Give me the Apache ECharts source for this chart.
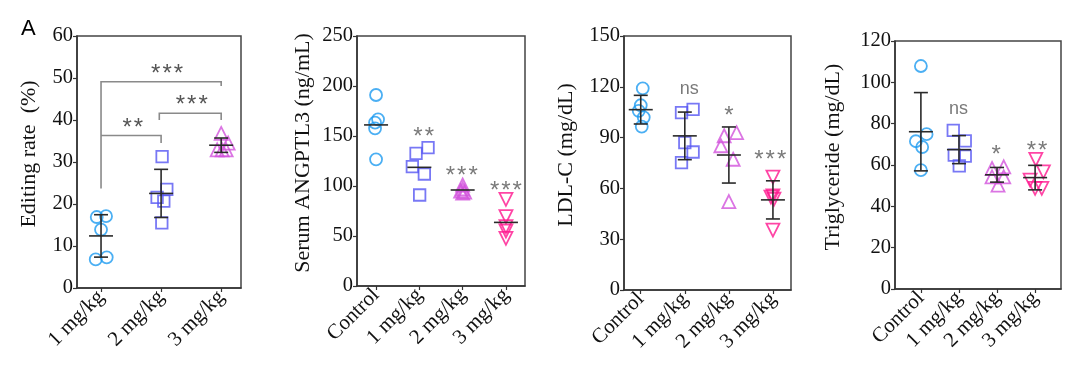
<!DOCTYPE html>
<html><head><meta charset="utf-8">
<script src="https://cdn.jsdelivr.net/npm/echarts@6/dist/echarts.min.js"></script>
<style>html,body{margin:0;padding:0;background:#fff}#c{width:1080px;height:382px}</style>
</head><body><div id="c"></div><script>
// ---- categories ----
const catsA = ['1 mg/kg', '2 mg/kg', '3 mg/kg'];
const catsB = ['Control', '1 mg/kg', '2 mg/kg', '3 mg/kg'];

// ---- Panel 1: Editing rate (%) ----
const edit1mg = [16.9, 17.1, 13.9, 6.8, 7.3];
const edit2mg = [31.3, 23.5, 21.6, 20.7, 15.5];
const edit3mg = [36.8, 34.5, 32.9, 32.9, 32.9];

// ---- Panel 2: Serum ANGPTL3 (ng/mL) ----
const angCtrl = [191, 166.7, 163.3, 157.7, 126.7];
const ang1mg = [132.7, 138.3, 119.3, 112, 91];
const ang2mg = [101, 97, 95, 94, 93];
const ang3mg = [86.7, 69.3, 59.3, 55, 47.7];

// ---- Panel 3: LDL-C (mg/dL) ----
const ldlCtrl = [119.1, 109.1, 105.8, 102, 96.5];
const ldl1mg = [104.7, 106.7, 87, 81.5, 75.2];
const ldl2mg = [91.1, 92.9, 85.2, 77.2, 52.2];
const ldl3mg = [66.7, 55.5, 53.6, 54.9, 35.4];

// ---- Panel 4: Triglyceride (mg/dL) ----
const tgCtrl = [107.9, 74.9, 71.5, 68.7, 57.5];
const tg1mg = [76.8, 71.7, 64.8, 64.3, 59.6];
const tg2mg = [59.1, 58.3, 54.3, 54.3, 50.3];
const tg3mg = [62.7, 56.7, 52.7, 48.7, 48.7];

// ---- y-axis ticks [min, max, interval] ----
const yTicks1 = [0, 60, 10];
const yTicks2 = [0, 250, 50];
const yTicks3 = [0, 150, 30];
const yTicks4 = [0, 120, 20];

// ---- significance annotations: [groupPos, y, text] ----
const sig1 = [[2.10, 52.4, '***'], [2.51, 45.0, '***'], [1.53, 39.4, '**']];
const sig2 = [[2.10, 154.3, '**'], [2.98, 115.3, '***'], [4.0, 101, '***']];
const sig3 = [[2.10, 118.5, 'ns'], [3.0, 106.3, '*'], [3.94, 80.1, '***']];
const sig4 = [[1.99, 87.3, 'ns'], [2.98, 67.7, '*'], [4.05, 69.3, '**']];
// brackets (panel 1): [from, to, height, leftLegEnd, rightLegEnd]
const brackets1 = [[1, 3, 49.1, 23.7, 48.1], [1, 2, 36.3, 36.3, 34.5], [1.97, 3, 41.6, 40.0, 40.0]];

// ---- horizontal jitter of individual points (px) ----
const jit = {
  p1: [[-4.3, 5, 0, -5.3, 5.7], [1, 5.7, -4, 2.7, 0.7], [0, 7, -4, 1, 5]],
  p2: [[0, 2, -1, -1, 0], [-3.3, 8.7, -7, 5, 0.3], [0, 0, -2, 2, 0], [0, 0, 0, 0, 0]],
  p3: [[2, 0, -2, 3, 1], [-3.3, 8.3, 0, 8.3, -3.3], [-4.7, 7.7, -8, 4.3, 0], [0, 0, 1, -2, 0]],
  p4: [[0, 5.7, -5, 1.3, 0], [-5.7, 6.3, -4.7, 6.3, 0.3], [6.7, -5, -5, 6.7, 1], [0.7, 8.3, -5, 0, 6.7]]
};

// ---- styles ----
const SERIF = 'Liberation Serif';
const SANS = 'Liberation Sans';
const MARK = {
  circle: { symbol: 'circle', color: '#1E9BF0', rot: 0, size: 12 },
  square: { symbol: 'rect', color: '#5656F2', rot: 0, size: 11.5 },
  up: { symbol: 'triangle', color: '#D252DC', rot: 0, size: 13 },
  down: { symbol: 'triangle', color: '#FF168E', rot: 180, size: 13 }
};

function mean(a) { return a.reduce((s, v) => s + v, 0) / a.length; }
function sd(a) { const m = mean(a); return Math.sqrt(a.reduce((s, v) => s + (v - m) * (v - m), 0) / (a.length - 1)); }
function spaced(t) { return t.indexOf('*') >= 0 ? t.split('').join('\u200A') : t; }

const grids = [
  { left: 77, top: 36, width: 164, height: 252 },
  { left: 357, top: 36, width: 168, height: 250 },
  { left: 624, top: 36, width: 167, height: 254 },
  { left: 895, top: 41, width: 166, height: 248 }
];
const xRanges = [[0.6, 3.33], [0.56, 4.44], [0.62, 4.41], [0.32, 4.68]];
const panelCats = [catsA, catsB, catsB, catsB];
const yTicks = [yTicks1, yTicks2, yTicks3, yTicks4];
const yNames = ['Editing rate  (%)', 'Serum ANGPTL3 (ng/mL)', 'LDL-C (mg/dL)', 'Triglyceride (mg/dL)'];
const nameGaps = [37, 43, 47, 51];
const groupsAll = [
  [edit1mg, edit2mg, edit3mg],
  [angCtrl, ang1mg, ang2mg, ang3mg],
  [ldlCtrl, ldl1mg, ldl2mg, ldl3mg],
  [tgCtrl, tg1mg, tg2mg, tg3mg]
];
const marksAll = [
  ['circle', 'square', 'up'],
  ['circle', 'square', 'up', 'down'],
  ['circle', 'square', 'up', 'down'],
  ['circle', 'square', 'up', 'down']
];
const jitAll = [jit.p1, jit.p2, jit.p3, jit.p4];
const showSD = [true, false, true, true];
const sigAll = [sig1, sig2, sig3, sig4];

const xAxis = [], yAxis = [], series = [];
for (let p = 0; p < 4; p++) {
  const cats = panelCats[p];
  const pos = cats.map((c, i) => i + 1);
  xAxis.push({
    type: 'value', gridIndex: p, min: xRanges[p][0], max: xRanges[p][1],
    splitLine: { show: false },
    axisLine: { show: true, onZero: false, lineStyle: { color: '#333', width: 1.5 } },
    axisTick: { show: true, length: 4, customValues: pos, lineStyle: { color: '#333', width: 1.2 } },
    axisLabel: {
      customValues: pos, rotate: 45, margin: 6,
      formatter: v => cats[Math.round(v) - 1] || '',
      fontFamily: SERIF, fontSize: 21, color: '#111'
    }
  });
  const t = yTicks[p];
  yAxis.push({
    type: 'value', gridIndex: p, min: t[0], max: t[1], interval: t[2],
    splitLine: { show: false },
    axisLine: { show: true, lineStyle: { color: '#333', width: 1.5 } },
    axisTick: { show: true, length: 4, lineStyle: { color: '#333', width: 1.2 } },
    axisLabel: { fontFamily: SERIF, fontSize: 20.5, color: '#111', margin: 4 },
    name: yNames[p], nameLocation: 'middle', nameRotate: 90, nameGap: nameGaps[p],
    nameTextStyle: { fontFamily: SERIF, fontSize: 22, color: '#111', padding: [0, 0, 0, 16] }
  });

  const groups = groupsAll[p];
  groups.forEach((vals, g) => {
    const m = MARK[marksAll[p][g]];
    series.push({
      type: 'scatter', xAxisIndex: p, yAxisIndex: p,
      symbol: m.symbol, symbolSize: m.size, symbolRotate: m.rot,
      itemStyle: { color: 'rgba(0,0,0,0)', borderColor: m.color, borderWidth: 1.8 },
      data: vals.map((v, i) => ({ value: [g + 1, v], symbolOffset: [jitAll[p][g][i], 0] })),
      silent: true, z: 3
    });
  });
  const withSD = showSD[p];
  series.push({
    type: 'custom', xAxisIndex: p, yAxisIndex: p, z: 5, silent: true,
    data: groups.map((vals, g) => [g + 1, mean(vals), sd(vals)]),
    renderItem: function (params, api) {
      const x = api.value(0), m = api.value(1), s = api.value(2);
      const c = api.coord([x, m]);
      const st = { stroke: '#2a2a2a', lineWidth: 1.6 };
      const ch = [{ type: 'line', shape: { x1: c[0] - 12, y1: c[1], x2: c[0] + 12, y2: c[1] }, style: st }];
      if (withSD) {
        const top = api.coord([x, m + s]), bot = api.coord([x, m - s]);
        ch.push({ type: 'line', shape: { x1: c[0], y1: top[1], x2: c[0], y2: bot[1] }, style: st });
        ch.push({ type: 'line', shape: { x1: c[0] - 7, y1: top[1], x2: c[0] + 7, y2: top[1] }, style: st });
        ch.push({ type: 'line', shape: { x1: c[0] - 7, y1: bot[1], x2: c[0] + 7, y2: bot[1] }, style: st });
      }
      return { type: 'group', children: ch };
    }
  });
  const sig = sigAll[p];
  const dark = p === 0;
  series.push({
    type: 'custom', xAxisIndex: p, yAxisIndex: p, z: 6, silent: true,
    data: sig.map(s => [s[0], s[1]]),
    renderItem: function (params, api) {
      const c = api.coord([api.value(0), api.value(1)]);
      const txt = sig[params.dataIndex][2];
      const isStar = txt.indexOf('*') >= 0;
      return {
        type: 'text', x: c[0], y: c[1] + (isStar ? 6 : 0),
        style: {
          text: spaced(txt), align: 'center', verticalAlign: 'middle',
          fontFamily: SANS, fontSize: isStar ? 24 : 18,
          fill: dark ? '#555' : '#7a7a7a'
        }
      };
    }
  });
}
series.push({
  type: 'custom', xAxisIndex: 0, yAxisIndex: 0, z: 4, silent: true,
  data: brackets1,
  renderItem: function (params, api) {
    const x1 = api.value(0), x2 = api.value(1), y = api.value(2), yl = api.value(3), yr = api.value(4);
    const pts = [api.coord([x1, yl]), api.coord([x1, y]), api.coord([x2, y]), api.coord([x2, yr])];
    return { type: 'polyline', shape: { points: pts }, style: { stroke: '#8a8a8a', lineWidth: 1.6, fill: null } };
  }
});

const chart = echarts.init(document.getElementById('c'), null, { renderer: 'canvas' });
chart.setOption({
  animation: false,
  backgroundColor: '#fff',
  title: { text: 'A', left: 16, top: 13, textStyle: { fontFamily: SANS, fontSize: 22, fontWeight: 'normal', color: '#000' } },
  grid: grids.map(g => Object.assign({ show: true, borderColor: '#444', borderWidth: 1.5, backgroundColor: 'transparent' }, g)),
  xAxis: xAxis,
  yAxis: yAxis,
  series: series
});
</script></body></html>
